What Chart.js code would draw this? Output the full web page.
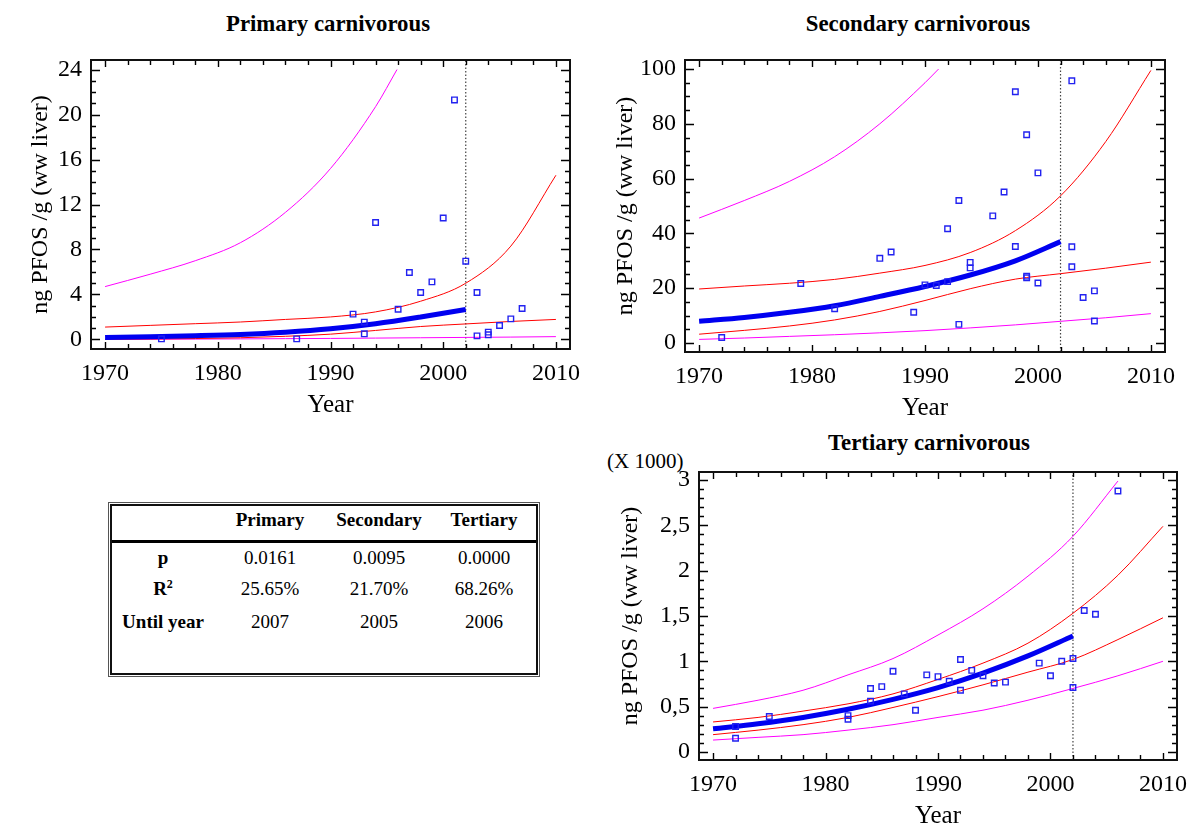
<!DOCTYPE html>
<html>
<head>
<meta charset="utf-8">
<script src="https://cdn.jsdelivr.net/npm/chart.js@4.4.1/dist/chart.umd.min.js"></script>
<style>
  html, body { margin: 0; padding: 0; background: #fff; overflow: hidden; }
  body { width: 1190px; height: 828px; position: relative; font-family: 'Liberation Serif', 'Times New Roman', serif; color: #000; }
  .box { position: absolute; }
  .overlay { position: absolute; left: 0; top: 0; pointer-events: none; }
  .title { position: absolute; font-weight: bold; font-size: 22.8px; transform: translate(-50%, -50%); white-space: nowrap; }
  .unit { position: absolute; font-size: 21px; white-space: nowrap; }
  #statsOuter { position: absolute; left: 108px; top: 502px; width: 432px; height: 175px; border: 1px solid #555; box-sizing: border-box; }
  #statsInner { position: absolute; left: 1px; top: 1px; right: 1px; bottom: 1px; border: 2px solid #111; }
  #stats { border-collapse: collapse; table-layout: fixed; width: 100%; font-size: 19px; }
  #stats td, #stats th { text-align: center; padding: 0; vertical-align: middle; }
  #stats thead th { height: 35px; padding-bottom: 6px; box-sizing: border-box; border-bottom: 3px solid #000; }
  #stats tbody td { padding-top: 3px; }
  #stats tbody td:first-child { font-weight: bold; }
</style>
</head>
<body>
<div class="title" style="left:328px;top:24px">Primary carnivorous</div>
<div class="title" style="left:918px;top:24px">Secondary carnivorous</div>
<div class="title" style="left:929px;top:443px">Tertiary carnivorous</div>
<div class="unit" style="left:607px;top:449px">(X 1000)</div>

<div class="box" style="left:0;top:0;width:590px;height:425px"><canvas id="primaryChart"></canvas></div>
<div class="box" style="left:590px;top:0;width:600px;height:428px"><canvas id="secondaryChart"></canvas></div>
<div class="box" style="left:590px;top:430px;width:600px;height:406px"><canvas id="tertiaryChart"></canvas></div>

<div id="statsOuter"><div id="statsInner">
  <table id="stats">
    <colgroup><col style="width:102px"><col style="width:112px"><col style="width:106px"><col style="width:104px"></colgroup>
    <thead><tr id="statsHead"><th></th></tr></thead>
    <tbody id="statsBody"></tbody>
  </table>
</div></div>

<script>
// shared x axis
const xRange = [1968.75, 2011.25];
const xTicks = [1970, 1980, 1990, 2000, 2010];
const forecastYear = 2002;
const fitYears = [1970, 1974, 1978, 1982, 1986, 1990, 1994, 1998, 2002];
const bandYears = [1970, 1974, 1978, 1982, 1986, 1990, 1994, 1998, 2002, 2006, 2010];

// Primary carnivorous
const primaryYRange = [-0.85, 24.85];
const primaryYTicks = [0, 4, 8, 12, 16, 20, 24];
const primaryYears = [1975, 1987, 1992, 1993, 1993, 1994, 1996, 1997, 1998, 1999, 2000, 2001, 2002, 2003, 2003, 2004, 2004, 2005, 2006, 2007];
const primaryValues = [0.05, 0.05, 2.25, 1.54, 0.5, 10.4, 2.69, 5.95, 4.18, 5.12, 10.8, 21.3, 6.96, 4.18, 0.32, 0.65, 0.41, 1.24, 1.83, 2.75];
const primaryFit = [0.17, 0.24, 0.33, 0.45, 0.65, 0.95, 1.4, 2.0, 2.67];
const primaryUpperCI = [1.1, 1.25, 1.4, 1.55, 1.78, 2.0, 2.45, 3.4, 5.0, 8.3, 14.6];
const primaryLowerCI = [0.02, 0.04, 0.08, 0.15, 0.28, 0.47, 0.8, 1.15, 1.38, 1.6, 1.78];
const primaryUpperPIYears = [1970, 1974, 1978, 1982, 1986, 1990, 1994, 1995.9];
const primaryUpperPI = [4.7, 5.8, 7.0, 8.6, 11.3, 15.2, 20.7, 24];
const primaryLowerPI = [0.01, 0.02, 0.03, 0.05, 0.07, 0.09, 0.12, 0.15, 0.18, 0.21, 0.25];

// Secondary carnivorous
const secondaryYRange = [-3.3, 103.3];
const secondaryYTicks = [0, 20, 40, 60, 80, 100];
const secondaryYears = [1972, 1979, 1982, 1986, 1987, 1989, 1990, 1991, 1992, 1992, 1993, 1993, 1994, 1994, 1996, 1997, 1998, 1998, 1999, 1999, 1999, 2000, 2000, 2003, 2003, 2003, 2004, 2005, 2005];
const secondaryValues = [2.0, 21.7, 12.5, 30.9, 33.2, 11.2, 21.2, 21.0, 22.4, 41.7, 52.0, 6.8, 29.4, 27.4, 46.4, 55.1, 91.7, 35.2, 76.0, 24.4, 23.8, 62.1, 21.9, 95.7, 35.1, 27.8, 16.6, 19.0, 8.0];
const secondaryFit = [7.9, 9.3, 11.2, 13.6, 17.0, 20.6, 24.8, 30.0, 37.0];
const secondaryUpperCI = [19.7, 20.8, 21.8, 23.2, 25.5, 28.3, 33.0, 41.0, 53.7, 73.5, 99.5];
const secondaryLowerCI = [3.2, 4.6, 6.2, 8.4, 11.5, 15.5, 19.8, 23.3, 25.3, 27.3, 29.5];
const secondaryUpperPIYears = [1970, 1974, 1978, 1982, 1986, 1990, 1991.2];
const secondaryUpperPI = [45.6, 52, 59, 68, 80, 95, 100];
const secondaryLowerPI = [1.3, 1.8, 2.4, 3.0, 3.7, 4.5, 5.5, 6.6, 7.9, 9.2, 10.7];

// Tertiary carnivorous (X 1000)
const tertiaryYRange = [-0.09, 3.09];
const tertiaryYTicks = [0, 0.5, 1, 1.5, 2, 2.5, 3];
const tertiaryYears = [1972, 1972, 1975, 1982, 1982, 1984, 1984, 1985, 1986, 1987, 1988, 1989, 1990, 1991, 1992, 1992, 1993, 1994, 1995, 1996, 1999, 2000, 2001, 2002, 2002, 2003, 2004, 2006];
const tertiaryValues = [0.15, 0.28, 0.39, 0.40, 0.36, 0.70, 0.56, 0.72, 0.89, 0.64, 0.46, 0.85, 0.83, 0.78, 1.02, 0.68, 0.90, 0.84, 0.76, 0.77, 0.98, 0.84, 1.00, 1.03, 0.71, 1.56, 1.52, 2.88];
const tertiaryFit = [0.254, 0.31, 0.38, 0.47, 0.58, 0.71, 0.87, 1.06, 1.28];
const tertiaryUpperCI = [0.33, 0.38, 0.45, 0.53, 0.64, 0.8, 0.98, 1.2, 1.53, 1.95, 2.49];
const tertiaryLowerCI = [0.19, 0.24, 0.3, 0.38, 0.49, 0.61, 0.74, 0.88, 1.02, 1.24, 1.48];
const tertiaryUpperPIYears = [1970, 1974, 1978, 1982, 1986, 1990, 1994, 1998, 2002, 2006];
const tertiaryUpperPI = [0.48, 0.57, 0.68, 0.85, 1.03, 1.29, 1.58, 1.94, 2.38, 2.99];
const tertiaryLowerPI = [0.13, 0.16, 0.19, 0.24, 0.3, 0.38, 0.46, 0.57, 0.7, 0.84, 1.0];

// summary table
const tableHeads = ['Primary', 'Secondary', 'Tertiary'];
const pValues = ['0.0161', '0.0095', '0.0000'];
const r2Values = ['25.65%', '21.70%', '68.26%'];
const untilYears = ['2007', '2005', '2006'];

Chart.defaults.font.family = "'Liberation Serif', 'Times New Roman', serif";
Chart.defaults.color = '#000';

// frame + inward tick marks on all four sides, drawn from the chart's own scales
function strokeFrame(ctx, chart, yTicks, yMinor, xMinor) {
    const { chartArea: a, scales: { x, y } } = chart;
    ctx.save();
    ctx.globalAlpha = 1;
    ctx.setLineDash([]);
    ctx.strokeStyle = '#000';
    ctx.lineWidth = 1.4;
    ctx.beginPath();
    const nx = Math.round((xTicks[xTicks.length - 1] - xTicks[0]) / xMinor);
    for (let i = 0; i <= nx; i++) {
        const v = xTicks[0] + i * xMinor;
        const px = Math.round(x.getPixelForValue(v)) + 0.5;
        const len = xTicks.includes(v) ? 7 : 5;
        ctx.moveTo(px, a.bottom); ctx.lineTo(px, a.bottom - len);
        ctx.moveTo(px, a.top); ctx.lineTo(px, a.top + len);
    }
    const ny = Math.round((yTicks[yTicks.length - 1] - yTicks[0]) / yMinor);
    for (let i = 0; i <= ny; i++) {
        const v = yTicks[0] + i * yMinor;
        const py = Math.round(y.getPixelForValue(v)) + 0.5;
        const major = yTicks.some(t => Math.abs(t - v) < 1e-6);
        const len = major ? 9 : 5;
        ctx.moveTo(a.left, py); ctx.lineTo(a.left + len, py);
        ctx.moveTo(a.right, py); ctx.lineTo(a.right - len, py);
    }
    ctx.stroke();
    ctx.lineWidth = 2;
    ctx.strokeStyle = '#111';
    ctx.strokeRect(a.left, a.top, a.right - a.left, a.bottom - a.top);
    ctx.restore();
}

// overlay canvas on top of the chart canvas
function drawOverlay(chart, yTicks, yMinor) {
    const src = chart.canvas;
    const ov = document.createElement('canvas');
    ov.className = 'overlay';
    ov.width = src.width;
    ov.height = src.height;
    ov.style.width = src.clientWidth + 'px';
    ov.style.height = src.clientHeight + 'px';
    src.parentNode.appendChild(ov);
    const ctx = ov.getContext('2d');
    const ratio = src.width / src.clientWidth;
    ctx.scale(ratio, ratio);
    strokeFrame(ctx, chart, yTicks, yMinor, 2);
}

const pts = (xs, ys) => xs.map((v, i) => ({ x: v, y: ys[i] }));

function curve(xs, ys, color, width) {
    return {
        data: pts(xs, ys),
        borderColor: color,
        borderWidth: width,
        pointRadius: 0,
        showLine: true,
        cubicInterpolationMode: 'monotone'
    };
}

function buildChart(id, s) {
    const ctx = document.getElementById(id).getContext('2d');
    const chart = new Chart(ctx, {
        type: 'scatter',
        data: {
            datasets: [
                {
                    data: pts(s.years, s.values),
                    pointStyle: 'rect',
                    pointRadius: 3.9,
                    borderWidth: 1.4,
                    borderColor: '#2222f0',
                    backgroundColor: 'rgba(255,255,255,0)',
                    showLine: false
                },
                curve(fitYears, s.fit, '#0000f0', 5),
                curve(bandYears, s.upCI, '#ff0000', 1),
                curve(bandYears, s.loCI, '#ff0000', 1),
                curve(s.upPIYears, s.upPI, '#ff00ff', 1),
                curve(bandYears, s.loPI, '#ff00ff', 1),
                {
                    // dotted line at end of the fitted period
                    data: [{ x: forecastYear, y: s.yRange[0] }, { x: forecastYear, y: s.yRange[1] }],
                    borderColor: '#444',
                    borderWidth: 1.2,
                    borderDash: [1.5, 2],
                    pointRadius: 0,
                    showLine: true
                }
            ]
        },
        options: {
            responsive: true,
            maintainAspectRatio: false,
            animation: false,
            events: [],
            layout: { padding: { top: s.top, right: s.right, left: 0, bottom: 0 } },
            plugins: {
                legend: { display: false },
                tooltip: { enabled: false }
            },
            scales: {
                x: {
                    type: 'linear',
                    min: xRange[0],
                    max: xRange[1],
                    grid: { display: false, drawTicks: false },
                    border: { display: false },
                    ticks: { padding: 10, font: { size: 24 }, callback: v => String(v) },
                    afterBuildTicks: sc => { sc.ticks = xTicks.map(v => ({ value: v })); },
                    afterFit: sc => { sc.height = 76; sc.paddingLeft = 0; sc.paddingRight = 0; },
                    title: { display: true, text: 'Year', font: { size: 25 }, padding: { top: 0, bottom: 5 } }
                },
                y: {
                    type: 'linear',
                    min: s.yRange[0],
                    max: s.yRange[1],
                    grid: { display: false, drawTicks: false },
                    border: { display: false },
                    ticks: { padding: 9, font: { size: 24 }, callback: v => String(v).replace('.', ',') },
                    afterBuildTicks: sc => { sc.ticks = s.yTicks.map(v => ({ value: v })); },
                    afterFit: sc => { sc.width = s.yWidth; sc.paddingTop = 0; sc.paddingBottom = 0; },
                    title: { display: true, text: 'ng PFOS /g (ww liver)', font: { size: 24 }, padding: { top: s.yTitlePad, bottom: 0 } }
                }
            }
        }
    });
    drawOverlay(chart, s.yTicks, s.yMinor);
    return chart;
}

buildChart('primaryChart', {
    years: primaryYears, values: primaryValues, fit: primaryFit,
    upCI: primaryUpperCI, loCI: primaryLowerCI,
    upPIYears: primaryUpperPIYears, upPI: primaryUpperPI, loPI: primaryLowerPI,
    yRange: primaryYRange, yTicks: primaryYTicks, yMinor: 1,
    top: 60, right: 20, yWidth: 91, yTitlePad: 26
});

buildChart('secondaryChart', {
    years: secondaryYears, values: secondaryValues, fit: secondaryFit,
    upCI: secondaryUpperCI, loCI: secondaryLowerCI,
    upPIYears: secondaryUpperPIYears, upPI: secondaryUpperPI, loPI: secondaryLowerPI,
    yRange: secondaryYRange, yTicks: secondaryYTicks, yMinor: 5,
    top: 60, right: 25, yWidth: 95, yTitlePad: 21
});

buildChart('tertiaryChart', {
    years: tertiaryYears, values: tertiaryValues, fit: tertiaryFit,
    upCI: tertiaryUpperCI, loCI: tertiaryLowerCI,
    upPIYears: tertiaryUpperPIYears, upPI: tertiaryUpperPI, loPI: tertiaryLowerPI,
    yRange: tertiaryYRange, yTicks: tertiaryYTicks, yMinor: 0.1,
    top: 42, right: 13, yWidth: 109, yTitlePad: 26
});

// summary table
const head = document.getElementById('statsHead');
tableHeads.forEach(h => {
    const th = document.createElement('th');
    th.textContent = h;
    head.appendChild(th);
});
const body = document.getElementById('statsBody');
const rows = [
    { label: 'p', values: pValues, height: 30 },
    { label: 'R<sup style="font-size:12px">2</sup>', values: r2Values, height: 33 },
    { label: 'Until year', values: untilYears, height: 33 },
    { label: '', values: ['', '', ''], height: 30 }
];
rows.forEach(r => {
    const tr = document.createElement('tr');
    tr.style.height = r.height + 'px';
    const td = document.createElement('td');
    td.innerHTML = r.label;
    tr.appendChild(td);
    r.values.forEach(v => {
        const c = document.createElement('td');
        c.textContent = v;
        tr.appendChild(c);
    });
    body.appendChild(tr);
});
</script>
</body>
</html>
